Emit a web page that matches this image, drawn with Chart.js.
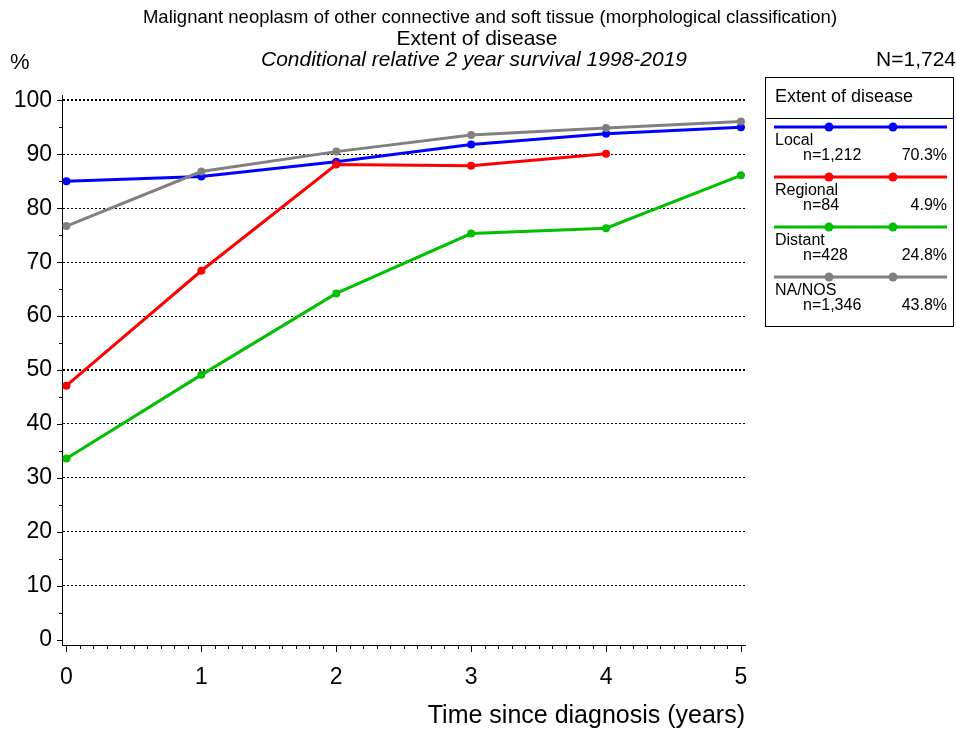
<!DOCTYPE html>
<html><head><meta charset="utf-8">
<script src="https://cdn.jsdelivr.net/npm/chart.js@4/dist/chart.umd.min.js"></script>
<style>html,body{margin:0;padding:0;background:#fff;}#wrap{width:956px;height:731px;position:relative;}</style>
</head><body><div id="wrap"><canvas id="c" width="956" height="731"></canvas></div>
<script>
// ---- data ----
const years = [0, 1, 2, 3, 4, 5];
const localValues = [85.0, 85.9, 88.6, 91.8, 93.8, 95.0];
const regionalValues = [47.1, 68.4, 88.1, 87.9, 90.1];
const distantValues = [33.6, 49.1, 64.2, 75.3, 76.3, 86.1];
const naNosValues = [76.7, 86.8, 90.5, 93.6, 94.9, 96.1];
const seriesNames = ['Local', 'Regional', 'Distant', 'NA/NOS'];
const seriesCounts = ['n=1,212', 'n=84', 'n=428', 'n=1,346'];
const seriesShares = ['70.3%', '4.9%', '24.8%', '43.8%'];
const yTickLabels = [0, 10, 20, 30, 40, 50, 60, 70, 80, 90, 100];
const xTickLabels = [0, 1, 2, 3, 4, 5];
const titleLine1 = 'Malignant neoplasm of other connective and soft tissue (morphological classification)';
const titleLine2 = 'Extent of disease';
const titleLine3 = 'Conditional relative 2 year survival 1998-2019';
const totalN = 'N=1,724';
const legendTitle = 'Extent of disease';
const xTitle = 'Time since diagnosis (years)';
const yUnit = '%';

const FONT = "'Liberation Sans', Arial, sans-serif";
const colors = ['#0000ff', '#ff0000', '#00c000', '#808080'];
const allValues = [localValues, regionalValues, distantValues, naNosValues];

const datasets = allValues.map((vals, i) => ({
  label: seriesNames[i],
  data: vals.map((v, j) => ({ x: years[j], y: v })),
  borderColor: colors[i],
  backgroundColor: colors[i],
  borderWidth: 3,
  pointRadius: 4,
  pointHoverRadius: 4,
  pointBorderWidth: 0,
  tension: 0,
  fill: false,
  order: 4 - i
}));

const decor = {
  id: 'decor',
  afterDraw(chart) {
    const ctx = chart.ctx;
    const ca = chart.chartArea;
    const xs = chart.scales.x, ys = chart.scales.y;
    ctx.save();
    ctx.strokeStyle = '#000';
    ctx.lineWidth = 1;
    // y tick marks
    ys.ticks.forEach(t => {
      const y = Math.round(ys.getPixelForValue(t.value)) + 0.5;
      const len = (t.value % 10 === 0) ? 5 : 3;
      ctx.beginPath(); ctx.moveTo(ca.left - len, y); ctx.lineTo(ca.left, y); ctx.stroke();
    });
    // x tick marks
    xs.ticks.forEach(t => {
      const x = Math.round(xs.getPixelForValue(t.value)) + 0.5;
      const isMajor = Math.abs(t.value - Math.round(t.value)) < 1e-6;
      const len = isMajor ? 7 : 4;
      ctx.beginPath(); ctx.moveTo(x, ca.bottom); ctx.lineTo(x, ca.bottom + len); ctx.stroke();
    });
    // titles
    ctx.fillStyle = '#000';
    ctx.textBaseline = 'middle';
    ctx.textAlign = 'center';
    ctx.font = '18.5px ' + FONT;
    ctx.fillText(titleLine1, 490, 18);
    ctx.font = '21px ' + FONT;
    ctx.fillText(titleLine2, 477, 39);
    ctx.font = 'italic 21px ' + FONT;
    ctx.fillText(titleLine3, 474, 60);
    ctx.textAlign = 'left';
    ctx.font = '22px ' + FONT;
    ctx.fillText(yUnit, 10, 63);
    ctx.textAlign = 'right';
    ctx.font = '21px ' + FONT;
    ctx.fillText(totalN, 956, 60);
    ctx.font = '25px ' + FONT;
    ctx.fillText(xTitle, ca.right, 716);
    // legend box
    const bx = 765.5, by = 77.5, bw = 188, bh = 249;
    ctx.lineWidth = 1;
    ctx.strokeRect(bx, by, bw, bh);
    ctx.beginPath(); ctx.moveTo(bx, 118.5); ctx.lineTo(bx + bw, 118.5); ctx.stroke();
    ctx.textAlign = 'left';
    ctx.font = '18px ' + FONT;
    ctx.fillText(legendTitle, 775, 97);
    seriesNames.forEach((name, i) => {
      const ly = 127 + i * 50;
      ctx.strokeStyle = colors[i];
      ctx.fillStyle = colors[i];
      ctx.lineWidth = 3;
      ctx.beginPath(); ctx.moveTo(774, ly); ctx.lineTo(947, ly); ctx.stroke();
      [829, 893].forEach(px => { ctx.beginPath(); ctx.arc(px, ly, 4.5, 0, Math.PI * 2); ctx.fill(); });
      ctx.fillStyle = '#000';
      ctx.font = '16px ' + FONT;
      ctx.textAlign = 'left';
      ctx.fillText(name, 775, ly + 14);
      ctx.fillText(seriesCounts[i], 803, ly + 29);
      ctx.textAlign = 'right';
      ctx.fillText(seriesShares[i], 947, ly + 29);
    });
    ctx.restore();
  }
};

new Chart(document.getElementById('c'), {
  type: 'line',
  data: { datasets },
  options: {
    responsive: false,
    animation: false,
    devicePixelRatio: 1,
    layout: { padding: { left: 0, right: 211, top: 95, bottom: 46 } },
    plugins: { legend: { display: false }, tooltip: { enabled: false }, title: { display: false } },
    scales: {
      x: {
        type: 'linear', min: -0.033, max: 5.03,
        afterBuildTicks: s => { const t = []; for (let i = 0; i <= 50; i++) t.push({ value: i / 10 }); s.ticks = t; },
        afterFit: s => { s.height = 40; },
        ticks: {
          autoSkip: false, maxRotation: 0, minRotation: 0, padding: 19, color: '#000',
          font: { family: FONT, size: 23 },
          callback: v => { const r = Math.round(v); return (Math.abs(v - r) < 1e-6 && xTickLabels.includes(r)) ? String(r) : ''; }
        },
        grid: { display: false, drawTicks: false },
        border: { display: true, color: '#000', width: 1 }
      },
      y: {
        type: 'linear', min: -1, max: 101,
        afterBuildTicks: s => { const t = []; for (let v = 0; v <= 100; v += 5) t.push({ value: v }); s.ticks = t; },
        afterFit: s => { s.width = 62; },
        ticks: {
          padding: 10, color: '#000', autoSkip: false,
          font: { family: FONT, size: 23 },
          callback: v => yTickLabels.includes(v) ? String(v) : ''
        },
        grid: {
          drawTicks: false,
          color: c => (c.tick && c.tick.value % 10 === 0 && c.tick.value > 0) ? '#000' : 'rgba(0,0,0,0)',
          lineWidth: c => (c.tick && (c.tick.value === 100 || c.tick.value === 50)) ? 2 : 1
        },
        border: { display: true, color: '#000', width: 1, dash: [2, 2] }
      }
    }
  },
  plugins: [decor]
});
</script></body></html>
